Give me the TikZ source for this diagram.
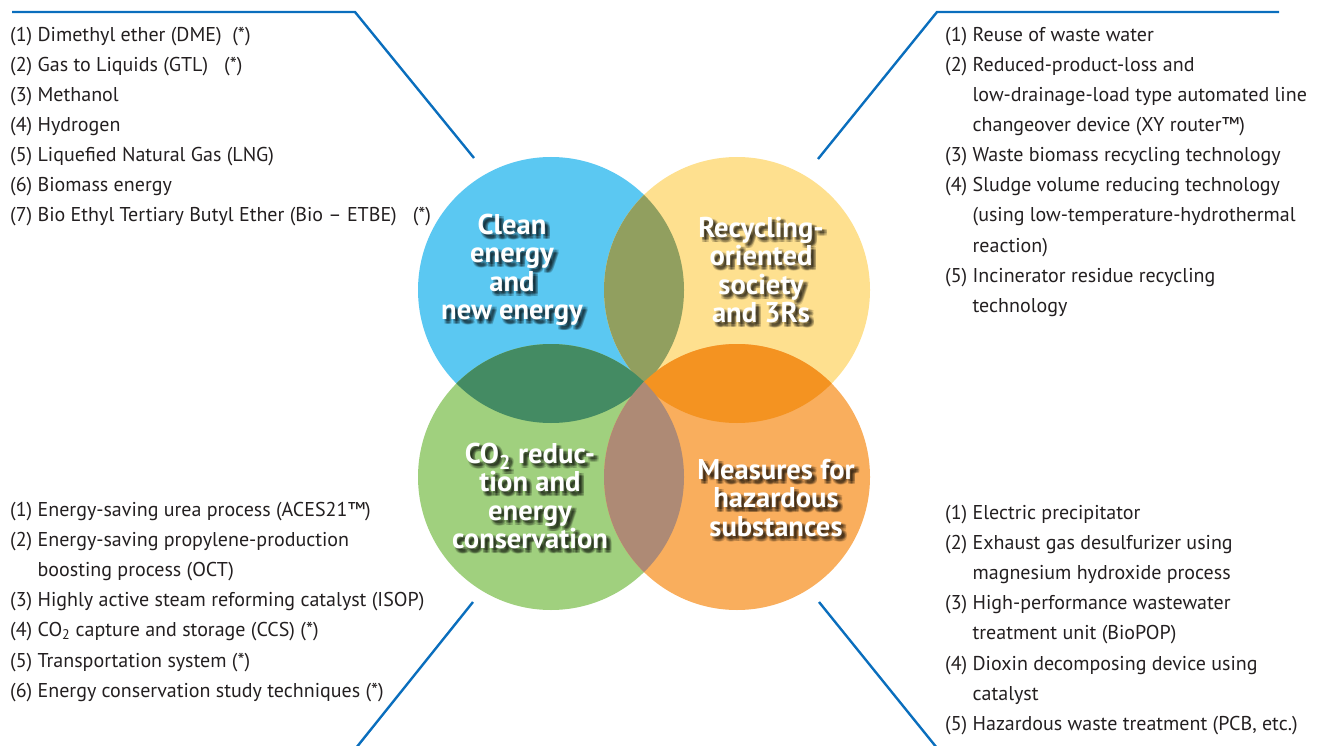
\documentclass[tikz,border=0pt]{standalone}
\usepackage{fontspec}
\setmainfont{PT Sans}

\definecolor{cleanblue}{HTML}{5BC8F2}
\definecolor{recycleyellow}{HTML}{FEE08F}
\definecolor{co2green}{HTML}{A0D07E}
\definecolor{hazardorange}{HTML}{F9AE5D}
\definecolor{olivelens}{HTML}{919F5F}
\definecolor{greenlens}{HTML}{448B63}
\definecolor{orangelens}{HTML}{F49321}
\definecolor{brownlens}{HTML}{AE8A75}
\definecolor{leaderblue}{HTML}{0A6EBD}
\definecolor{listgray}{HTML}{231F20}

% white bold title with a soft dark shadow behind it
\newcommand{\circletitle}[3]{%
  \foreach \dx in {2,3.5,5}
    \foreach \dy in {2,3.5,5}
      \node[titletext, text=black, opacity=0.14, xshift=\dx pt, yshift=-\dy pt] at (#2) {#3};
  \node[titletext] (#1) at (#2) {#3};}

\begin{document}
\begin{tikzpicture}[x=1pt, y=-1pt,
    area/.style={circle, minimum size=266pt, inner sep=0pt, draw=none},
    titletext/.style={text=white, align=center, inner sep=0pt,
      font=\bfseries\fontsize{28.6}{28.4}\selectfont},
    listline/.style={anchor=base west, inner sep=0pt, text=listgray,
      font=\fontsize{20}{30}\selectfont},
    leader/.style={draw=leaderblue, line width=2.4pt}]
  \useasboundingbox (0,0) rectangle (1325,746);
  % four topic circles
  \node[area, fill=cleanblue] (clean) at (551,290) {};
  \node[area, fill=recycleyellow] (recycle) at (737,290) {};
  \node[area, fill=co2green] (co2) at (551,477) {};
  \node[area, fill=hazardorange] (hazard) at (737,477) {};
  % overlaps
  \begin{scope}
    \clip (clean.center) circle[radius=133pt];
    \fill[olivelens] (recycle.center) circle[radius=133pt];
    \fill[greenlens] (co2.center) circle[radius=133pt];
  \end{scope}
  \begin{scope}
    \clip (hazard.center) circle[radius=133pt];
    \fill[orangelens] (recycle.center) circle[radius=133pt];
    \fill[brownlens] (co2.center) circle[radius=133pt];
  \end{scope}
  % titles
  \circletitle{cleantitle}{512,270}{Clean\\energy\\and\\new energy}
  \circletitle{recycletitle}{761,270}{Recycling-\\oriented\\society\\and 3Rs}
  \circletitle{co2title}{530,496}{CO\textsubscript{2} reduc-\\tion and\\energy\\conservation}
  \circletitle{hazardtitle}{776,498}{Measures for\\hazardous\\substances}
  % leader lines
  \coordinate (tlend) at (12,12);
  \coordinate (tlbend) at (355,12);
  \coordinate (tlfoot) at (474,158);
  \coordinate (trend) at (1279,12);
  \coordinate (trbend) at (937,12);
  \coordinate (trfoot) at (818,159);
  \coordinate (blfoot) at (473,602);
  \coordinate (blend) at (356,748);
  \coordinate (brfoot) at (819,602);
  \coordinate (brend) at (937,748);
  \draw[leader] (tlend) -- (tlbend) -- (tlfoot);
  \draw[leader] (trend) -- (trbend) -- (trfoot);
  \draw[leader] (blfoot) -- (blend);
  \draw[leader] (brfoot) -- (brend);
  % clean energy items
  \foreach \txt [count=\i] in {{(1) Dimethyl ether (DME)\ \ (*)},
      {(2) Gas to Liquids (GTL)\ \ \ (*)}, {(3) Methanol}, {(4) Hydrogen},
      {(5) Liquefied Natural Gas (LNG)}, {(6) Biomass energy},
      {(7) Bio Ethyl Tertiary Butyl Ether (Bio -- ETBE)\ \ \ (*)}}
    \node[listline] (clean\i) at (10,{42+30*(\i-1)}) {\txt};
  % recycling items
  \foreach \txt [count=\i] in {{(1) Reuse of waste water},
      {(2) Reduced-product-loss and},
      {\phantom{(2)\ }low-drainage-load type automated line},
      {\phantom{(2)\ }changeover device (XY router™)},
      {(3) Waste biomass recycling technology},
      {(4) Sludge volume reducing technology},
      {\phantom{(4)\ }(using low-temperature-hydrothermal},
      {\phantom{(4)\ }reaction)},
      {(5) Incinerator residue recycling},
      {\phantom{(5)\ }technology}}
    \node[listline] (recycle\i) at (945,{42+30*(\i-1)}) {\txt};
  % co2 items
  \foreach \txt [count=\i] in {{(1) Energy-saving urea process (ACES21™)},
      {(2) Energy-saving propylene-production},
      {\phantom{(2)\ }boosting process (OCT)},
      {(3) Highly active steam reforming catalyst (ISOP)},
      {(4) CO\textsubscript{2} capture and storage (CCS) (*)},
      {(5) Transportation system (*)},
      {(6) Energy conservation study techniques (*)}}
    \node[listline] (co2\i) at (10,{516+30.2*(\i-1)}) {\txt};
  % hazardous substance items
  \foreach \txt [count=\i] in {{(1) Electric precipitator},
      {(2) Exhaust gas desulfurizer using},
      {\phantom{(2)\ }magnesium hydroxide process},
      {(3) High-performance wastewater},
      {\phantom{(3)\ }treatment unit (BioPOP)},
      {(4) Dioxin decomposing device using},
      {\phantom{(4)\ }catalyst},
      {(5) Hazardous waste treatment (PCB, etc.)}}
    \node[listline] (hazard\i) at (945,{519+30.2*(\i-1)}) {\txt};
\end{tikzpicture}
\end{document}
